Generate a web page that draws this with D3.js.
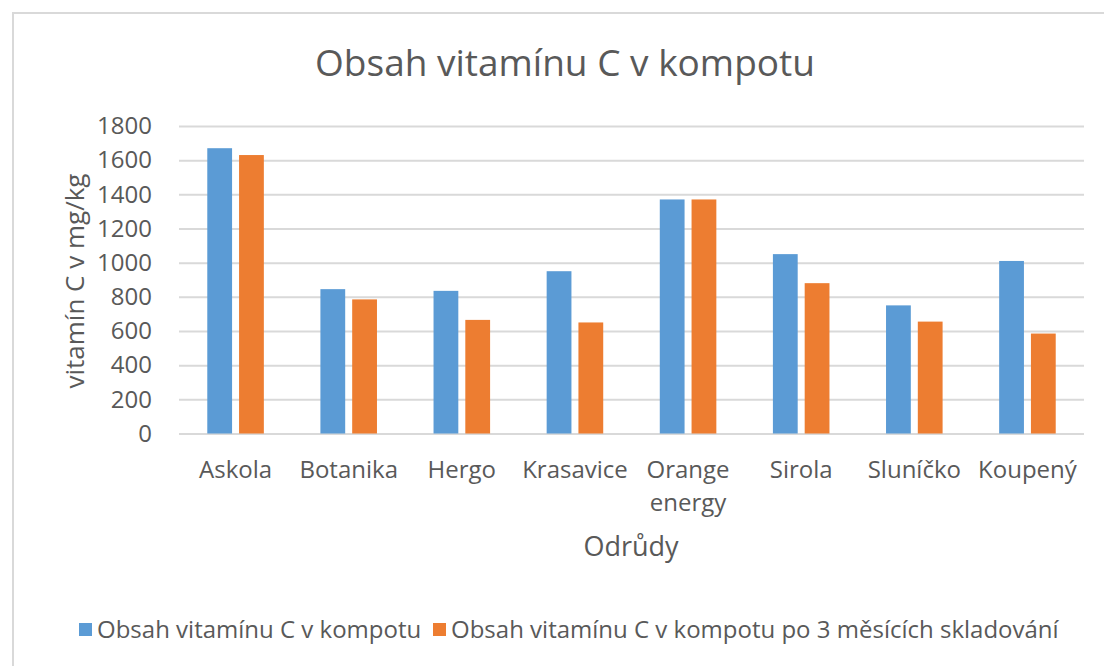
<!DOCTYPE html>
<html>
<head>
<meta charset="utf-8">
<script src="https://cdn.jsdelivr.net/npm/d3@7"></script>
<style>
  body { margin: 0; background: #fff; }
  text { font-family: "Open Sans", sans-serif; fill: #595959; }
</style>
</head>
<body>
<div id="chart"></div>
<script>
// data
const categories = ["Askola", "Botanika", "Hergo", "Krasavice", "Orange energy", "Sirola", "Sluníčko", "Koupený"];
const seriesNames = ["Obsah vitamínu C v kompotu", "Obsah vitamínu C v kompotu po 3 měsících skladování"];
const fresh = [1670, 845, 835, 950, 1370, 1050, 750, 1010];
const stored = [1630, 785, 665, 650, 1370, 880, 655, 585];
const yTicks = [0, 200, 400, 600, 800, 1000, 1200, 1400, 1600, 1800];
const colors = ["#5b9bd5", "#ed7d31"];

const W = 1104, H = 666;
var margin = {top: 126, right: 20, bottom: 232.5, left: 179},
  width = 1084 - margin.left,
  height = H - margin.top - margin.bottom;

var svg = d3.select("#chart")
  .append("svg")
  .attr("width", W)
  .attr("height", H);

svg.append("rect")
  .attr("width", W).attr("height", H)
  .attr("fill", "#fff");

// chart frame (right and bottom edges run off the picture)
svg.append("rect")
  .attr("x", 13).attr("y", 13)
  .attr("width", W).attr("height", H)
  .attr("fill", "none")
  .attr("stroke", "#d9d9d9")
  .attr("stroke-width", 2);

svg.append("text")
  .attr("x", 565).attr("y", 76)
  .attr("text-anchor", "middle")
  .style("font-size", "37px")
  .text("Obsah vitamínu C v kompotu");

var g = svg.append("g")
  .attr("transform", "translate(" + margin.left + "," + margin.top + ")");

var yScale = d3.scaleLinear()
  .domain([0, 1800])
  .range([height, 0]);

var x0 = d3.scaleBand()
  .domain(categories)
  .range([0, width])
  .paddingInner(0.5)
  .paddingOuter(0.25);

var x1 = d3.scaleBand()
  .domain([0, 1])
  .range([0, x0.bandwidth()])
  .paddingInner(0.22);

// y axis with gridlines
var yAxis = g.append("g")
  .call(d3.axisLeft(yScale).tickValues(yTicks).tickFormat(d3.format("d"))
    .tickSize(-width).tickPadding(27));
yAxis.select(".domain").remove();
yAxis.selectAll("line").attr("stroke", "#d9d9d9").attr("stroke-width", 2);
yAxis.selectAll("text")
  .style("font-size", "24px")
  .style("font-family", "'Open Sans', sans-serif")
  .attr("fill", "#595959");

// bars
var rows = categories.map(function(c, i) { return {cat: c, values: [fresh[i], stored[i]]}; });
g.selectAll(".grp").data(rows)
  .enter().append("g")
  .attr("class", "grp")
  .attr("transform", function(d) { return "translate(" + x0(d.cat) + ",0)"; })
  .selectAll("rect")
  .data(function(d) { return d.values.map(function(v, k) { return {k: k, v: v}; }); })
  .enter().append("rect")
  .attr("x", function(d) { return x1(d.k); })
  .attr("width", x1.bandwidth())
  .attr("y", function(d) { return yScale(d.v); })
  .attr("height", function(d) { return height - yScale(d.v); })
  .attr("fill", function(d) { return colors[d.k]; });

// x axis labels, wrap on spaces like excel did
var xAxis = g.append("g")
  .attr("transform", "translate(0," + height + ")")
  .call(d3.axisBottom(x0).tickSize(0).tickPadding(0));
xAxis.select(".domain").remove();
xAxis.selectAll("text").each(function(d) {
  var t = d3.select(this);
  t.text(null).attr("y", 0).attr("dy", null)
    .style("font-size", "24px")
    .style("font-family", "'Open Sans', sans-serif")
    .attr("fill", "#595959");
  d.split(" ").forEach(function(w, i) {
    t.append("tspan").attr("x", 0).attr("y", 44.5 + i * 33).text(w);
  });
});

// axis titles
svg.append("text")
  .attr("x", 631).attr("y", 556)
  .attr("text-anchor", "middle")
  .style("font-size", "27px")
  .text("Odrůdy");

svg.append("text")
  .attr("transform", "translate(84,281) rotate(-90)")
  .attr("text-anchor", "middle")
  .style("font-size", "26px")
  .text("vitamín C v mg/kg");

// legend
var legX = [79, 433];
seriesNames.forEach(function(name, i) {
  svg.append("rect")
    .attr("x", legX[i]).attr("y", 623)
    .attr("width", 13).attr("height", 13)
    .attr("fill", colors[i]);
  svg.append("text")
    .attr("x", legX[i] + 18).attr("y", 638)
    .style("font-size", "24px")
    .text(name);
});
</script>
</body>
</html>
